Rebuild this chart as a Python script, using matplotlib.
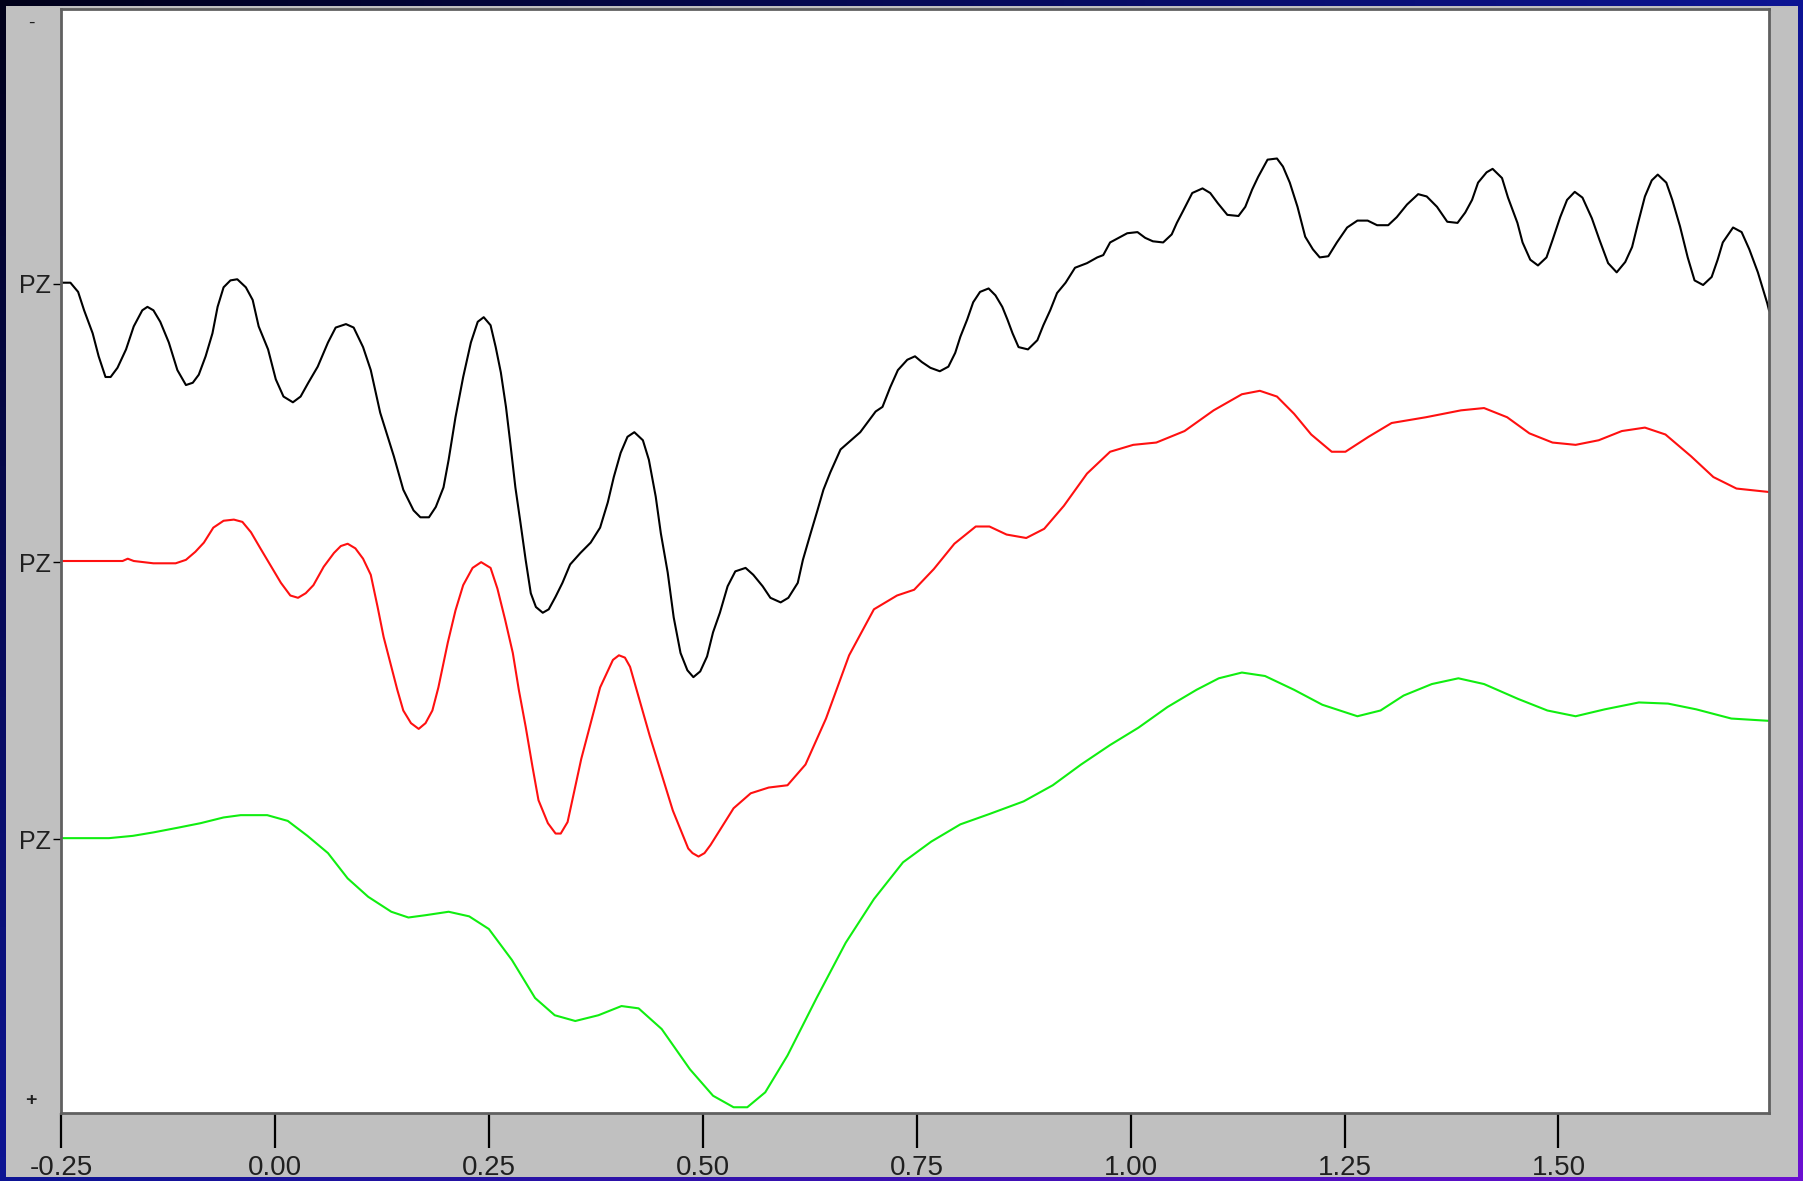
import numpy as np
import matplotlib.pyplot as plt
from matplotlib.patches import Rectangle

# time (s) and amplitude (uV, positive = down) for the three PZ traces
t_black = [-0.250, -0.239, -0.230, -0.223, -0.213, -0.206, -0.198, -0.192, -0.184, -0.174,
           -0.165, -0.155, -0.149, -0.142, -0.134, -0.124, -0.114, -0.104, -0.096, -0.089,
           -0.081, -0.073, -0.067, -0.060, -0.052, -0.044, -0.034, -0.026, -0.019, -0.008,
           0.001, 0.010, 0.021, 0.030, 0.039, 0.050, 0.062, 0.071, 0.083, 0.092,
           0.103, 0.112, 0.123, 0.139, 0.150, 0.162, 0.170, 0.180, 0.188, 0.197,
           0.203, 0.211, 0.220, 0.229, 0.237, 0.244, 0.252, 0.258, 0.264, 0.270,
           0.275, 0.281, 0.287, 0.293, 0.299, 0.305, 0.313, 0.320, 0.328, 0.336,
           0.345, 0.357, 0.369, 0.380, 0.389, 0.396, 0.404, 0.412, 0.420, 0.430,
           0.437, 0.445, 0.451, 0.459, 0.466, 0.474, 0.482, 0.489, 0.497, 0.505,
           0.512, 0.520, 0.529, 0.538, 0.550, 0.559, 0.570, 0.579, 0.591, 0.600,
           0.611, 0.617, 0.626, 0.634, 0.641, 0.649, 0.661, 0.684, 0.702, 0.710,
           0.719, 0.728, 0.739, 0.748, 0.756, 0.766, 0.777, 0.787, 0.795, 0.801,
           0.809, 0.816, 0.824, 0.834, 0.842, 0.850, 0.856, 0.862, 0.869, 0.880,
           0.891, 0.898, 0.906, 0.914, 0.924, 0.935, 0.949, 0.961, 0.968, 0.976,
           0.986, 0.996, 1.008, 1.017, 1.026, 1.038, 1.048, 1.054, 1.061, 1.072,
           1.084, 1.093, 1.102, 1.113, 1.126, 1.134, 1.142, 1.149, 1.160, 1.171,
           1.178, 1.186, 1.195, 1.204, 1.213, 1.221, 1.231, 1.241, 1.253, 1.265,
           1.277, 1.288, 1.301, 1.311, 1.323, 1.336, 1.346, 1.358, 1.370, 1.382,
           1.391, 1.399, 1.406, 1.416, 1.423, 1.434, 1.441, 1.452, 1.458, 1.467,
           1.476, 1.486, 1.493, 1.502, 1.510, 1.519, 1.528, 1.539, 1.548, 1.558,
           1.568, 1.578, 1.586, 1.593, 1.601, 1.609, 1.616, 1.626, 1.633, 1.642,
           1.651, 1.659, 1.669, 1.679, 1.686, 1.692, 1.704, 1.714, 1.723, 1.733,
           1.744, 1.746]
v_black = [-0.1, -0.1, 0.7, 2.3, 4.3, 6.3, 8.1, 8.1, 7.3, 5.7,
           3.7, 2.3, 2.0, 2.3, 3.3, 5.1, 7.5, 8.8, 8.6, 7.9,
           6.3, 4.3, 2.0, 0.3, -0.3, -0.4, 0.3, 1.4, 3.7, 5.7,
           8.3, 9.8, 10.3, 9.8, 8.6, 7.2, 5.1, 3.8, 3.5, 3.8,
           5.5, 7.5, 11.2, 15.0, 17.9, 19.7, 20.3, 20.3, 19.4, 17.7,
           15.3, 11.6, 8.1, 5.1, 3.3, 2.9, 3.6, 5.5, 7.7, 10.7,
           13.8, 17.7, 20.8, 24.0, 26.9, 28.1, 28.6, 28.3, 27.2, 26.0,
           24.4, 23.4, 22.5, 21.2, 19.0, 16.8, 14.7, 13.3, 12.9, 13.6,
           15.3, 18.5, 21.7, 25.1, 29.0, 32.1, 33.6, 34.2, 33.7, 32.4,
           30.3, 28.6, 26.3, 25.0, 24.7, 25.3, 26.3, 27.3, 27.7, 27.3,
           26.0, 24.0, 21.7, 19.7, 17.9, 16.4, 14.4, 12.9, 11.1, 10.7,
           9.0, 7.5, 6.6, 6.3, 6.8, 7.3, 7.6, 7.2, 6.0, 4.6,
           3.1, 1.6, 0.7, 0.4, 1.0, 2.0, 3.1, 4.3, 5.5, 5.7,
           4.9, 3.6, 2.3, 0.8, -0.1, -1.4, -1.8, -2.3, -2.5, -3.6,
           -4.0, -4.4, -4.5, -4.0, -3.7, -3.6, -4.3, -5.3, -6.3, -7.9,
           -8.3, -7.9, -7.0, -6.0, -5.9, -6.7, -8.2, -9.3, -10.8, -10.9,
           -10.2, -8.8, -6.7, -4.1, -3.0, -2.3, -2.4, -3.6, -4.9, -5.5,
           -5.5, -5.1, -5.1, -5.8, -6.9, -7.8, -7.6, -6.7, -5.4, -5.3,
           -6.2, -7.3, -8.8, -9.7, -10.0, -9.2, -7.5, -5.3, -3.6, -2.1,
           -1.6, -2.3, -3.8, -5.8, -7.3, -8.0, -7.5, -5.7, -3.8, -1.8,
           -1.0, -1.9, -3.2, -5.3, -7.6, -9.0, -9.5, -8.8, -7.3, -5.0,
           -2.3, -0.3, 0.1, -0.6, -2.1, -3.6, -4.9, -4.5, -3.0, -1.0,
           1.7, 2.3]

t_red = [-0.250, -0.178, -0.172, -0.165, -0.142, -0.116, -0.104, -0.093, -0.083, -0.072,
         -0.060, -0.048, -0.038, -0.028, -0.017, -0.005, 0.007, 0.018, 0.027, 0.036,
         0.045, 0.057, 0.069, 0.077, 0.085, 0.094, 0.103, 0.112, 0.120, 0.127,
         0.135, 0.143, 0.150, 0.159, 0.168, 0.176, 0.184, 0.191, 0.202, 0.211,
         0.220, 0.231, 0.241, 0.252, 0.260, 0.269, 0.278, 0.285, 0.293, 0.301,
         0.308, 0.319, 0.328, 0.334, 0.342, 0.358, 0.380, 0.395, 0.402, 0.409,
         0.415, 0.438, 0.465, 0.483, 0.488, 0.495, 0.502, 0.509, 0.536, 0.556,
         0.577, 0.599, 0.620, 0.644, 0.671, 0.700, 0.727, 0.747, 0.770, 0.794,
         0.819, 0.835, 0.855, 0.878, 0.899, 0.922, 0.949, 0.976, 1.003, 1.030,
         1.063, 1.097, 1.130, 1.151, 1.171, 1.191, 1.211, 1.235, 1.251, 1.278,
         1.305, 1.345, 1.386, 1.413, 1.440, 1.466, 1.493, 1.520, 1.547, 1.574,
         1.601, 1.625, 1.655, 1.681, 1.708, 1.746]
v_red = [-0.1, -0.1, -0.3, -0.1, 0.1, 0.1, -0.2, -0.9, -1.7, -3.0,
         -3.6, -3.7, -3.5, -2.6, -1.2, 0.3, 1.8, 2.9, 3.1, 2.7,
         2.0, 0.4, -0.8, -1.4, -1.6, -1.2, -0.3, 1.1, 3.9, 6.5,
         8.8, 11.1, 12.9, 14.0, 14.5, 14.0, 12.9, 10.9, 7.0, 4.2,
         2.0, 0.5, 0.0, 0.5, 2.3, 5.0, 7.9, 11.1, 14.3, 17.8,
         20.7, 22.7, 23.6, 23.6, 22.6, 17.1, 10.9, 8.5, 8.1, 8.3,
         9.1, 15.1, 21.6, 24.9, 25.3, 25.6, 25.3, 24.6, 21.4, 20.1,
         19.6, 19.4, 17.6, 13.6, 8.1, 4.1, 2.9, 2.4, 0.6, -1.6,
         -3.1, -3.1, -2.4, -2.1, -2.9, -4.9, -7.7, -9.6, -10.2, -10.4,
         -11.4, -13.2, -14.6, -14.9, -14.4, -12.9, -11.1, -9.6, -9.6, -10.9,
         -12.1, -12.6, -13.2, -13.4, -12.6, -11.2, -10.4, -10.2, -10.6, -11.4,
         -11.7, -11.1, -9.2, -7.4, -6.4, -6.1]

t_green = [-0.250, -0.194, -0.166, -0.142, -0.114, -0.087, -0.060, -0.040, -0.009, 0.015,
           0.038, 0.062, 0.085, 0.109, 0.136, 0.156, 0.176, 0.203, 0.227, 0.250,
           0.277, 0.304, 0.327, 0.351, 0.378, 0.405, 0.425, 0.452, 0.485, 0.512,
           0.536, 0.552, 0.573, 0.599, 0.633, 0.667, 0.700, 0.734, 0.767, 0.801,
           0.835, 0.875, 0.909, 0.942, 0.976, 1.009, 1.043, 1.077, 1.103, 1.130,
           1.157, 1.191, 1.224, 1.265, 1.292, 1.319, 1.352, 1.383, 1.413, 1.453,
           1.487, 1.520, 1.554, 1.594, 1.628, 1.661, 1.702, 1.746]
v_green = [-0.1, -0.1, -0.3, -0.6, -1.0, -1.4, -1.9, -2.1, -2.1, -1.6,
           -0.3, 1.2, 3.4, 5.0, 6.3, 6.8, 6.6, 6.3, 6.7, 7.8,
           10.5, 13.8, 15.3, 15.8, 15.3, 14.5, 14.7, 16.5, 20.0, 22.3,
           23.3, 23.3, 22.0, 18.8, 13.8, 9.0, 5.2, 2.0, 0.2, -1.3,
           -2.2, -3.3, -4.7, -6.5, -8.2, -9.7, -11.5, -13.0, -14.0, -14.5,
           -14.2, -13.0, -11.7, -10.7, -11.2, -12.5, -13.5, -14.0, -13.5, -12.2,
           -11.2, -10.7, -11.3, -11.9, -11.8, -11.3, -10.5, -10.3]

channel_labels = ['PZ', 'PZ', 'PZ']
offsets = [0.0, 24.2, 48.3]
xticks = [-0.25, 0.0, 0.25, 0.5, 0.75, 1.0, 1.25, 1.5]

plt.rcParams['font.family'] = ['Liberation Sans', 'DejaVu Sans']

W, H = 1803, 1181
fig = plt.figure(figsize=(W / 100, H / 100), dpi=100)

# window border: navy top-left, blue, purple bottom-right
bg = fig.add_axes([0, 0, 1, 1], zorder=-10)
gx, gy = np.meshgrid(np.linspace(0, 1, 200), np.linspace(0, 1, 200))
tl = np.array([0.0, 0.0, 0.10])
tr = np.array([0.05, 0.08, 0.58])
bl = np.array([0.05, 0.08, 0.58])
br = np.array([0.42, 0.06, 0.82])
gx3, gy3 = gx[..., None], gy[..., None]
img = (tl * (1 - gx3) * (1 - gy3) + tr * gx3 * (1 - gy3)
       + bl * (1 - gx3) * gy3 + br * gx3 * gy3)
bg.imshow(np.clip(img, 0, 1), extent=[0, 1, 0, 1], aspect='auto', origin='upper')
bg.add_patch(Rectangle((6 / W, 4 / H), 1792 / W, 1171 / H, facecolor='#c0c0c0',
                       edgecolor='none', transform=bg.transAxes))
bg.set_xlim(0, 1)
bg.set_ylim(0, 1)
bg.set_axis_off()

ax = fig.add_axes([61 / W, 1 - 1113 / H, 1708 / W, 1104 / H])
ax.set_facecolor('white')

colors = ['black', '#ff1010', '#10ee10']
for t, v, off, c in zip([t_black, t_red, t_green], [v_black, v_red, v_green], offsets, colors):
    ax.plot(t, np.array(v) + off, color=c, lw=1.5, solid_joinstyle='round')

ax.set_xlim(-0.25, 1.746)
ax.set_ylim(72.1, -23.9)
ax.set_xticks(xticks)
ax.set_xticklabels(['%.2f' % x for x in xticks])
ax.set_yticks(offsets)
ax.set_yticklabels(channel_labels)
ax.tick_params(axis='x', length=25, width=1.6, pad=5, labelsize=20, colors='black',
               labelcolor='#202020')
ax.tick_params(axis='y', length=6, width=1, pad=1, labelsize=18, labelcolor='#202020')

for s in ax.spines.values():
    s.set_color('#606060')
    s.set_linewidth(2)

fig.text(31 / W, 1 - 23 / H, '-', ha='center', va='center', fontsize=14, color='#202020')
fig.text(31 / W, 1 - 1101 / H, '+', ha='center', va='center', fontsize=14,
         fontweight='bold', color='#202020')

fig.savefig('out.png', dpi=100)
